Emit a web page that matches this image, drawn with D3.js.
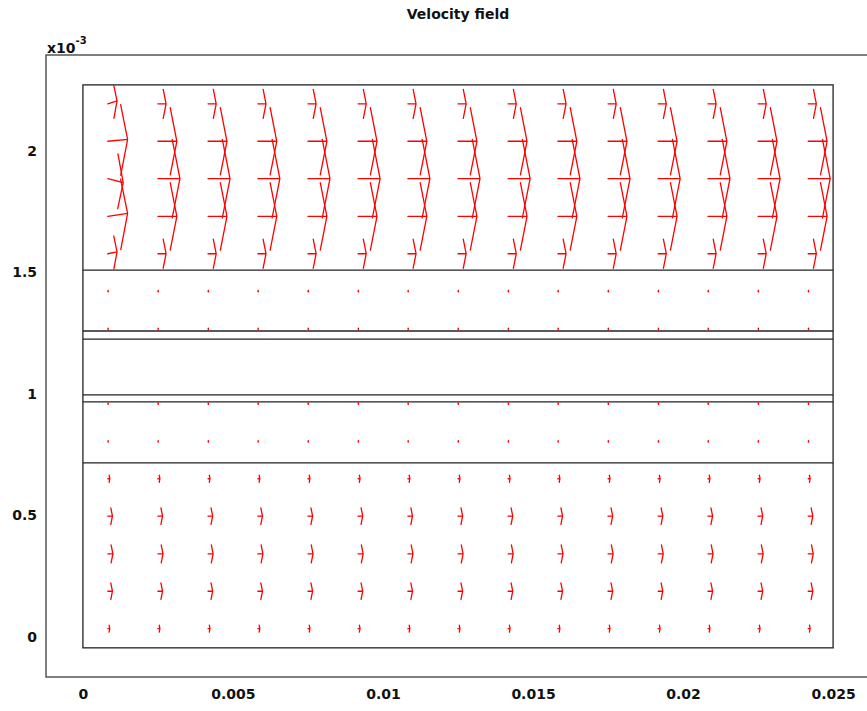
<!DOCTYPE html>
<html>
<head>
<meta charset="utf-8">
<script src="https://cdn.jsdelivr.net/npm/d3@7"></script>
<style>
  body { margin: 0; background: #fff; }
  .canvas text { font-family: "DejaVu Sans", sans-serif; font-weight: bold; fill: #111; }
</style>
</head>
<body>
<div class="canvas"></div>
<script>
// arrow grid: x in m, y in 1e-3 m
const colX = [0.00083, 0.0025, 0.00417, 0.00583, 0.0075, 0.00917, 0.01083, 0.0125,
  0.01417, 0.01583, 0.0175, 0.01917, 0.02083, 0.0225, 0.02417];
const rowY = [2.194, 2.040, 1.886, 1.731, 1.577, 1.423, 1.268, 1.114,
  0.960, 0.805, 0.651, 0.497, 0.342, 0.188, 0.034];

// horizontal velocity per row (null = no flow), first column is the inlet
const uMain = [0.37, 0.86, 1.0, 0.86, 0.37, 0.02, 0.02, null, 0.02, 0.02, 0.09, 0.21, 0.23, 0.21, 0.09];
const uInlet = [0.42, 0.9, 0.7, 0.9, 0.42, 0.02, 0.02, null, 0.02, 0.02, 0.09, 0.21, 0.23, 0.21, 0.09];
const vInlet = [0.017, 0.011, -0.022, 0.017, 0.011, 0, 0, null, 0, 0, 0, 0, 0, 0, 0];

// geometry (x in m, y in 1e-3 m)
const geomX = [0, 0.025];
const geomY = [-0.045, 2.272];
const boundaryY = [1.510, 1.259, 1.226, 0.996, 0.967, 0.716];

const xTicks = [0, 0.005, 0.01, 0.015, 0.02, 0.025];
const xTickLabels = ["0", "0.005", "0.01", "0.015", "0.02", "0.025"];
const yTicks = [0, 0.5, 1, 1.5, 2];
const yTickLabels = ["0", "0.5", "1", "1.5", "2"];

var width = 867;
var height = 711;
var arrowScale = 0.000733; // m per velocity unit
var headBack = 0.35;
var headWidth = 0.22;

/* Scale */
var xScale = d3.scaleLinear().domain([-0.00123, 0.02623]).range([46, 870]);
var yScale = d3.scaleLinear().domain([-0.165, 2.395]).range([677, 55]);

var svg = d3
  .select(".canvas")
  .append("svg")
  .attr("width", width)
  .attr("height", height);

/* Title */
svg
  .append("text")
  .attr("x", 458)
  .attr("y", 19)
  .attr("text-anchor", "middle")
  .style("font-size", "14px")
  .text("Velocity field");

/* Axes frame */
svg
  .append("rect")
  .attr("x", xScale(-0.00123))
  .attr("y", yScale(2.395))
  .attr("width", xScale(0.02623) - xScale(-0.00123))
  .attr("height", yScale(-0.165) - yScale(2.395))
  .attr("fill", "none")
  .attr("stroke", "#555")
  .attr("stroke-width", 1.5);

/* Tick labels via axes */
var xAxis = d3
  .axisBottom(xScale)
  .tickValues(xTicks)
  .tickSize(0)
  .tickPadding(12)
  .tickFormat((d, i) => xTickLabels[i]);
var gx = svg.append("g").attr("transform", `translate(0, ${yScale(-0.165)})`).call(xAxis);
gx.select(".domain").remove();
gx.selectAll("text")
  .attr("fill", "#111")
  .style("font-family", "DejaVu Sans, sans-serif")
  .style("font-weight", "bold")
  .style("font-size", "14px");

var yAxis = d3
  .axisLeft(yScale)
  .tickValues(yTicks)
  .tickSize(0)
  .tickPadding(9)
  .tickFormat((d, i) => yTickLabels[i]);
var gy = svg.append("g").attr("transform", `translate(${xScale(-0.00123)}, 0)`).call(yAxis);
gy.select(".domain").remove();
gy.selectAll("text")
  .attr("fill", "#111")
  .style("font-family", "DejaVu Sans, sans-serif")
  .style("font-weight", "bold")
  .style("font-size", "14px");

/* exponent label */
var expo = svg.append("text").attr("x", 47).attr("y", 53).style("font-size", "14px");
expo.append("tspan").text("x10");
expo.append("tspan").attr("dy", -9).style("font-size", "10px").text("-3");

/* Geometry */
var geom = svg.append("g").attr("class", "geometry");
geom
  .append("rect")
  .attr("x", xScale(geomX[0]))
  .attr("y", yScale(geomY[1]))
  .attr("width", xScale(geomX[1]) - xScale(geomX[0]))
  .attr("height", yScale(geomY[0]) - yScale(geomY[1]))
  .attr("fill", "none")
  .attr("stroke", "#222")
  .attr("stroke-width", 1.3);
geom
  .selectAll(".boundary")
  .data(boundaryY)
  .enter()
  .append("line")
  .attr("class", "boundary")
  .attr("x1", xScale(geomX[0]))
  .attr("x2", xScale(geomX[1]))
  .attr("y1", (d) => yScale(d))
  .attr("y2", (d) => yScale(d))
  .attr("stroke", "#222")
  .attr("stroke-width", 1.3);

/* Arrows */
var arrows = [];
colX.forEach(function (x, ci) {
  rowY.forEach(function (y, ri) {
    var u = ci === 0 ? uInlet[ri] : uMain[ri];
    var v = ci === 0 ? vInlet[ri] : 0;
    if (u === null) return;
    arrows.push({ x: x, y: y / 1000, u: u, v: v });
  });
});

// head is built in data units, so the unequal axis scaling stretches it
function arrowPath(d) {
  var dx = d.u * arrowScale;
  var dy = d.v * arrowScale;
  var tx = d.x + dx;
  var ty = d.y + dy;
  var bx = tx - headBack * dx;
  var by = ty - headBack * dy;
  var h1x = bx - headWidth * dy;
  var h1y = by + headWidth * dx;
  var h2x = bx + headWidth * dy;
  var h2y = by - headWidth * dx;
  var px = (a) => xScale(a);
  var py = (b) => yScale(b * 1000);
  return (
    `M${px(d.x)},${py(d.y)}L${px(tx)},${py(ty)}` +
    `M${px(h1x)},${py(h1y)}L${px(tx)},${py(ty)}L${px(h2x)},${py(h2y)}`
  );
}

svg
  .append("g")
  .attr("class", "arrows")
  .selectAll("path")
  .data(arrows)
  .enter()
  .append("path")
  .attr("d", arrowPath)
  .attr("fill", "none")
  .attr("stroke", "#ff0000")
  .attr("stroke-width", 1.3)
  .attr("stroke-linecap", "round")
  .attr("stroke-linejoin", "round");
</script>
</body>
</html>
